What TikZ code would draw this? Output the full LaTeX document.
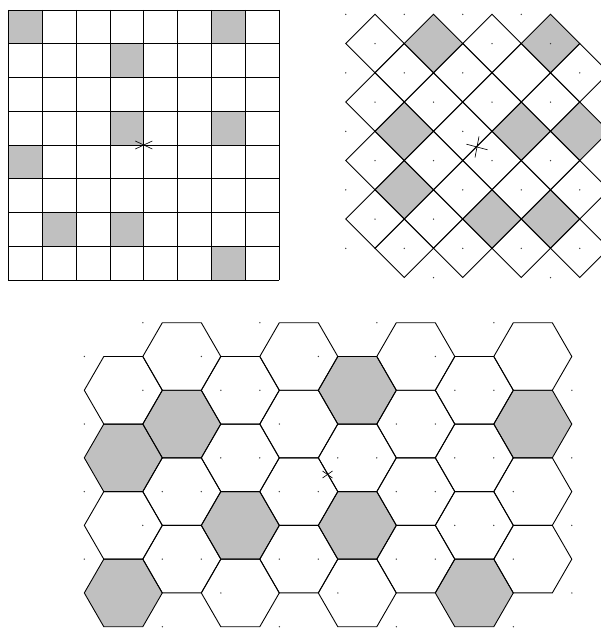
\documentclass[tikz,border=0pt]{standalone}
\definecolor{cellgray}{RGB}{192,192,192}
\definecolor{dotcol}{RGB}{60,60,60}
\tikzset{
  gridline/.style={draw=black,line width=0.9pt,line join=miter},
  cellfill/.style={fill=cellgray},
  mark cross/.style={draw=black,line width=0.65pt},
  latdot/.style={fill=dotcol}
}
\begin{document}
\begin{tikzpicture}[x=1pt,y=-1pt]
\useasboundingbox (0,0) rectangle (601,628);
\clip (0,0) rectangle (601,628);

% ---------------- square grid ----------------
\foreach \r/\c in {0/0,0/6,1/3,3/3,3/6,4/0,6/1,6/3,7/6}
  \fill[cellfill] ({8.4+33.85*\c},{10+33.75*\r}) rectangle +(33.85,33.75);
\foreach \k in {0,...,8} {
  \draw[gridline] ({8.4+33.85*\k},10) -- ({8.4+33.85*\k},280);
  \draw[gridline] (8.4,{10+33.75*\k}) -- (279.2,{10+33.75*\k});
}
\coordinate (sqc) at (143.8,145);
\draw[mark cross] (sqc) +(-8.5,-4) -- +(8.5,4);
\draw[mark cross] (sqc) +(-8.5,4) -- +(8.5,-4);

% ---------------- diamond grid ----------------
\foreach \i/\j in {2/0,6/0,1/3,5/3,7/3,1/5,4/6,6/6}
  \fill[cellfill,shift={({375+29.25*\i},{43.6+29.25*\j})}]
    (0,-29.25) -- (29.25,0) -- (0,29.25) -- (-29.25,0) -- cycle;
\foreach \j in {0,...,7} {
  \foreach \m in {0,...,3} {
    \pgfmathsetmacro\ii{2*\m+mod(\j,2)}
    \draw[gridline,shift={({375+29.25*\ii},{43.6+29.25*\j})}]
      (0,-29.25) -- (29.25,0) -- (0,29.25) -- (-29.25,0) -- cycle;
  }
}
\foreach \j/\ilist in {-1/{-1,1,3,5},0/{0,4,6},1/{-1,1,3,7},2/{0,2,4,6},3/{-1,3},4/{0,2,4,6},5/{-1,3,5,7},6/{0,2},7/{-1,1,3,5,7},8/{2,6}}
  \foreach \i in \ilist
    \fill[latdot] ({375+29.25*\i},{43.6+29.25*\j}) circle (0.75pt);
\coordinate (dmc) at (477,147);
\draw[mark cross] (dmc) +(-10.5,-2.8) -- +(10.5,2.8);
\draw[mark cross] (dmc) +(2,-10.5) -- +(-2,10.5);

% ---------------- hexagon grid ----------------
\foreach \k/\r in {0/1,0/3,1/1,2/2,4/0,4/2,6/3,7/1} {
  \pgfmathsetmacro\cx{123.3+58.5*\k}
  \pgfmathsetmacro\cy{356.5+33.78*(1-mod(\k,2))+67.55*\r}
  \fill[cellfill,shift={(\cx,\cy)}]
    (39,0) -- (19.5,-33.78) -- (-19.5,-33.78) -- (-39,0) -- (-19.5,33.78) -- (19.5,33.78) -- cycle;
}
\foreach \k in {0,...,7} {
  \foreach \r in {0,...,3} {
    \pgfmathsetmacro\cx{123.3+58.5*\k}
    \pgfmathsetmacro\cy{356.5+33.78*(1-mod(\k,2))+67.55*\r}
    \draw[gridline,shift={(\cx,\cy)}]
      (39,0) -- (19.5,-33.78) -- (-19.5,-33.78) -- (-39,0) -- (-19.5,33.78) -- (19.5,33.78) -- cycle;
  }
}
\foreach \v/\ulist in {0/{3,9,15,21},1/{0,6,12,18},2/{3,7,9,19,21,25},3/{0,10,16,18},4/{7,9,13,15,19,21,25},5/{0,4,6,10,12,16,18,22},6/{3,19,21,25},7/{0,4,6,10,12,16,18,22},8/{7,13,25},9/{4,10,16,22}}
  \foreach \u in \ulist
    \fill[latdot] ({84.3+19.5*\u},{322.7+33.78*\v}) circle (0.75pt);
\coordinate (hxc) at (327.5,474.5);
\draw[mark cross] (hxc) +(-5,-3.5) -- +(5,3.5);
\draw[mark cross] (hxc) +(-5,3.5) -- +(5,-3.5);
\end{tikzpicture}
\end{document}
